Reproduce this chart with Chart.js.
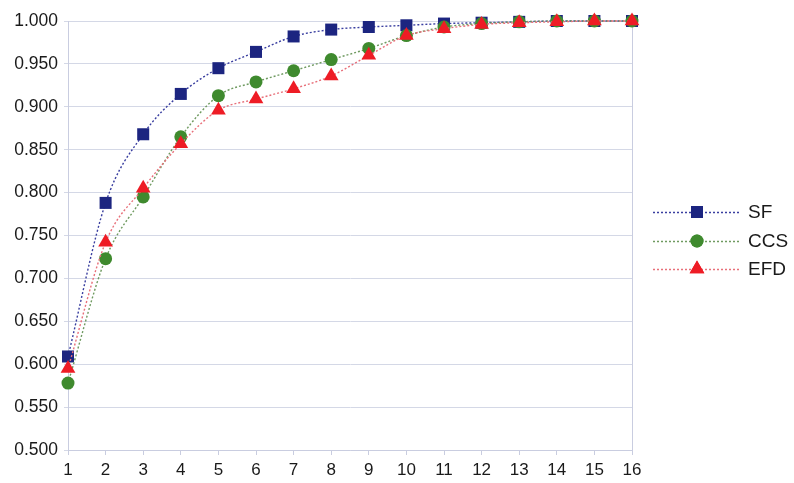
<!DOCTYPE html>
<html>
<head>
<meta charset="utf-8">
<script src="https://cdn.jsdelivr.net/npm/chart.js@4/dist/chart.umd.min.js"></script>
<style>
  html, body { margin: 0; padding: 0; background: #ffffff; }
  #wrap { width: 794px; height: 483px; }
</style>
</head>
<body>
<div id="wrap"><canvas id="c" width="794" height="483"></canvas></div>
<script>
// Number of components on the x axis
const steps = [1, 2, 3, 4, 5, 6, 7, 8, 9, 10, 11, 12, 13, 14, 15, 16];

// Cumulative share for each method
const sfValues  = [0.609, 0.788, 0.868, 0.915, 0.945, 0.964, 0.982, 0.990, 0.993, 0.995, 0.997, 0.998, 0.999, 1.000, 1.000, 1.000];
const ccsValues = [0.578, 0.723, 0.795, 0.865, 0.913, 0.929, 0.942, 0.955, 0.968, 0.983, 0.993, 0.997, 0.999, 1.000, 1.000, 1.000];
const efdValues = [0.595, 0.742, 0.805, 0.857, 0.896, 0.909, 0.921, 0.936, 0.960, 0.983, 0.991, 0.996, 0.998, 0.999, 1.000, 1.000];

const seriesNames = ['SF', 'CCS', 'EFD'];
const yTicks = [0.5, 0.55, 0.6, 0.65, 0.7, 0.75, 0.8, 0.85, 0.9, 0.95, 1.0];

const FONT = '"Liberation Sans", Arial, sans-serif';

const styles = [
  { line: '#3a3fa0', fill: '#1c2580', point: 'rect',     radius: 8.5 },
  { line: '#6f9a60', fill: '#3f8a2e', point: 'circle',   radius: 6.5 },
  { line: '#e8707a', fill: '#ee1c25', point: 'triangle', radius: 8.5 }
];

const toPoints = vals => vals.map((v, i) => ({ x: steps[i], y: v }));
const valueSets = [sfValues, ccsValues, efdValues];

// later series are painted over earlier ones
const datasets = valueSets.map((vals, i) => ({
  label: seriesNames[i],
  data: toPoints(vals),
  order: valueSets.length - 1 - i,
  borderColor: styles[i].line,
  borderWidth: 1.4,
  borderDash: [2, 2],
  backgroundColor: styles[i].fill,
  pointBackgroundColor: styles[i].fill,
  pointBorderColor: styles[i].fill,
  pointBorderWidth: 0,
  pointStyle: styles[i].point,
  pointRadius: styles[i].radius,
  tension: 0.35,
  cubicInterpolationMode: 'monotone',
  clip: false,
  fill: false
}));

// Frame line on the right side of the plot and a legend with line + marker samples
const framePlugin = {
  id: 'frameAndLegend',
  beforeDatasetsDraw(chart) {
    const { ctx, chartArea: a } = chart;
    ctx.save();
    ctx.strokeStyle = '#c9cde0';
    ctx.lineWidth = 1;
    ctx.beginPath();
    ctx.moveTo(a.right + 0.5, a.top);
    ctx.lineTo(a.right + 0.5, a.bottom);
    ctx.stroke();
    ctx.restore();
  },
  afterDatasetsDraw(chart) {
    const { ctx } = chart;
    ctx.save();
    const rowsY = [212, 241, 269];
    const x0 = 653, x1 = 740, mx = 697;
    ctx.font = '19px ' + FONT;
    ctx.textBaseline = 'middle';
    ctx.textAlign = 'left';
    seriesNames.forEach((name, i) => {
      const y = rowsY[i];
      const s = styles[i];
      ctx.strokeStyle = s.line;
      ctx.lineWidth = 1.4;
      ctx.setLineDash([2, 2]);
      ctx.beginPath();
      ctx.moveTo(x0, y + 0.5);
      ctx.lineTo(x1, y + 0.5);
      ctx.stroke();
      ctx.setLineDash([]);
      ctx.fillStyle = s.fill;
      Chart.helpers.drawPoint(ctx, { pointStyle: s.point, radius: s.radius, borderWidth: 0, rotation: 0 }, mx, y);
      ctx.fill();
      ctx.fillStyle = '#1a1a1a';
      ctx.fillText(name, 748, y + 1);
    });
    ctx.restore();
  }
};

new Chart(document.getElementById('c'), {
  type: 'line',
  data: { datasets },
  options: {
    responsive: false,
    animation: false,
    layout: { padding: { top: 21, right: 162, bottom: 0, left: 0 } },
    plugins: { legend: { display: false }, tooltip: { enabled: false } },
    scales: {
      x: {
        type: 'linear',
        min: 1,
        max: 16,
        afterFit(scale) { scale.height = 33; },
        afterBuildTicks(scale) { scale.ticks = steps.map(v => ({ value: v })); },
        ticks: {
          color: '#1a1a1a',
          font: { family: FONT, size: 17 },
          padding: 5,
          maxRotation: 0,
          autoSkip: false,
          callback: v => String(v)
        },
        grid: {
          drawOnChartArea: false,
          drawTicks: true,
          tickLength: 5,
          color: '#c9cde0'
        },
        border: { color: '#c9cde0' }
      },
      y: {
        min: 0.5,
        max: 1.0,
        afterFit(scale) { scale.width = 68; },
        afterBuildTicks(scale) { scale.ticks = yTicks.map(v => ({ value: v })); },
        ticks: {
          color: '#1a1a1a',
          font: { family: FONT, size: 17.5 },
          padding: 6,
          callback: v => Number(v).toFixed(3)
        },
        grid: {
          color: '#d4d8e6',
          lineWidth: 1,
          drawTicks: true,
          tickLength: 4
        },
        border: { color: '#c9cde0' }
      }
    }
  },
  plugins: [framePlugin]
});
</script>
</body>
</html>
